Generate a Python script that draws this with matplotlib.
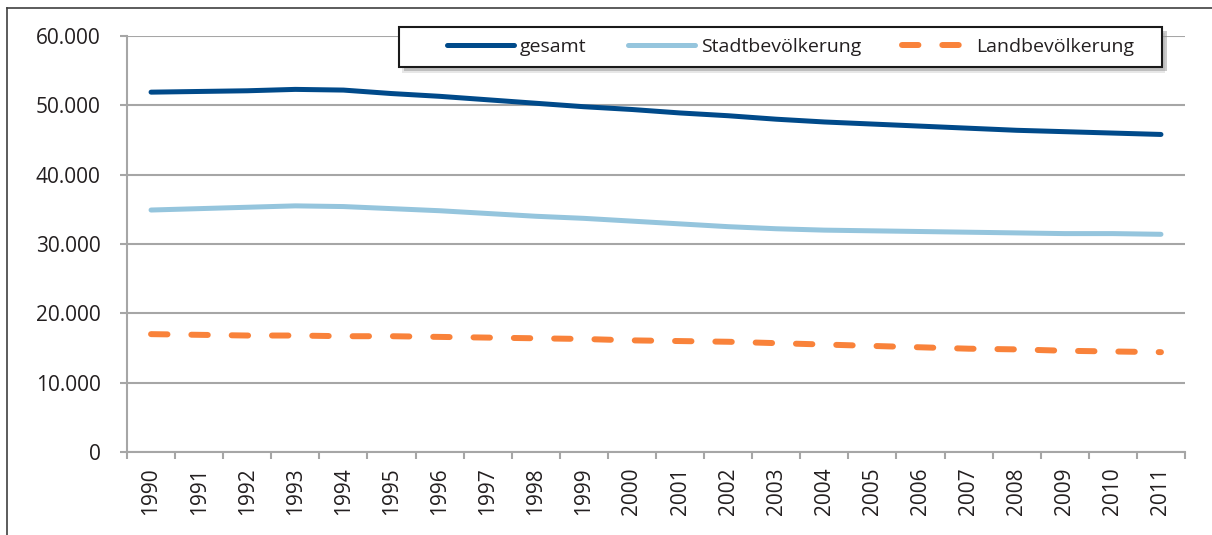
import matplotlib
matplotlib.use("Agg")
import matplotlib.pyplot as plt
from matplotlib.lines import Line2D
from matplotlib.patches import Rectangle

jahre = [str(j) for j in range(1990, 2012)]
gesamt = [51900, 52000, 52100, 52300, 52200, 51700, 51300, 50800, 50300, 49800, 49400,
          48900, 48500, 48000, 47600, 47300, 47000, 46700, 46400, 46200, 46000, 45800]
stadt = [34900, 35100, 35300, 35500, 35400, 35100, 34800, 34400, 34000, 33700, 33300,
         32900, 32500, 32200, 32000, 31900, 31800, 31700, 31600, 31500, 31500, 31400]
land = [17000, 16900, 16800, 16800, 16700, 16700, 16600, 16500, 16400, 16300, 16100,
        16000, 15900, 15700, 15500, 15300, 15100, 14900, 14800, 14600, 14500, 14400]
y_ticks = [0, 10000, 20000, 30000, 40000, 50000, 60000]
y_labels = ["0", "10.000", "20.000", "30.000", "40.000", "50.000", "60.000"]
namen = ["gesamt", "Stadtbevölkerung", "Landbevölkerung"]

c_ges = "#004a8a"
c_stadt = "#95c5dd"
c_land = "#f9823a"
grau = "#a6a6a6"
txt = "#231f20"

plt.rcParams["font.family"] = ["Open Sans", "DejaVu Sans"]

W, H = 1212, 535
fig = plt.figure(figsize=(W / 100, H / 100), dpi=100)
ax = fig.add_axes([127 / W, 1 - 452 / H, 1058 / W, 416 / H])

x = list(range(len(jahre)))
ax.plot(x, gesamt, color=c_ges, lw=3.6, solid_capstyle="round", zorder=3)
ax.plot(x, stadt, color=c_stadt, lw=3.6, solid_capstyle="round", zorder=3)
ax.plot(x, land, color=c_land, lw=4.3, dashes=(2.75, 4.0), dash_capstyle="round", zorder=3)

ax.set_xlim(-0.5, len(jahre) - 0.5)
ax.set_ylim(0, 60000)
ax.set_yticks(y_ticks)
ax.set_yticklabels(y_labels)
ax.set_xticks(x)
ax.set_xticklabels(jahre, rotation=90)
ax.set_xticks([i - 0.5 for i in range(len(jahre) + 1)], minor=True)

ax.grid(axis="y", color=grau, lw=1.5, zorder=0)
ax.set_axisbelow(True)
for s in ["top", "right"]:
    ax.spines[s].set_visible(False)
for s in ["left", "bottom"]:
    ax.spines[s].set_color(grau)
    ax.spines[s].set_linewidth(1.5)

ax.tick_params(axis="y", length=5, width=1.5, color=grau, pad=14, labelsize=15, labelcolor=txt)
ax.tick_params(axis="x", which="major", length=0, pad=11, labelsize=15, labelcolor=txt)
ax.tick_params(axis="x", which="minor", length=5, width=1.5, color=grau)

# Legende mit Kasten und Schatten
fig.patches.append(Rectangle(((399 + 3) / W, 1 - (67 + 6) / H), 763 / W, 40 / H,
                             transform=fig.transFigure, facecolor="#bdbdbd", edgecolor="none",
                             alpha=0.35, zorder=7))
fig.patches.append(Rectangle(((399 + 5) / W, 1 - (67 + 4) / H), 763 / W, 40 / H,
                             transform=fig.transFigure, facecolor="#8c8c8c", edgecolor="none",
                             alpha=0.45, zorder=7))
fig.patches.append(Rectangle((399 / W, 1 - 67 / H), 763 / W, 40 / H,
                             transform=fig.transFigure, facecolor="white", edgecolor="#1a1a1a",
                             lw=1.5, zorder=8))
handles = [Line2D([], [], color=c_ges, lw=3.6, solid_capstyle="round"),
           Line2D([], [], color=c_stadt, lw=3.6, solid_capstyle="round"),
           Line2D([], [], color=c_land, lw=4.3, dashes=(2.75, 4.0), dash_capstyle="round")]
leg = fig.legend(handles, namen, loc="center left", bbox_to_anchor=(437 / W, 1 - 47 / H),
                 bbox_transform=fig.transFigure, ncol=3, frameon=False, borderpad=0,
                 handlelength=3.45, handletextpad=0.33, columnspacing=2.1, fontsize=14)
leg.set_zorder(10)
for t in leg.get_texts():
    t.set_color(txt)

# Rahmen oben und links
fig.add_artist(Line2D([7 / W, 1], [1 - 8 / H, 1 - 8 / H], transform=fig.transFigure,
                      color="#404040", lw=1.2))
fig.add_artist(Line2D([7 / W, 7 / W], [1 - 8 / H, 0], transform=fig.transFigure,
                      color="#404040", lw=1.2))

fig.savefig("out.png", dpi=100)
